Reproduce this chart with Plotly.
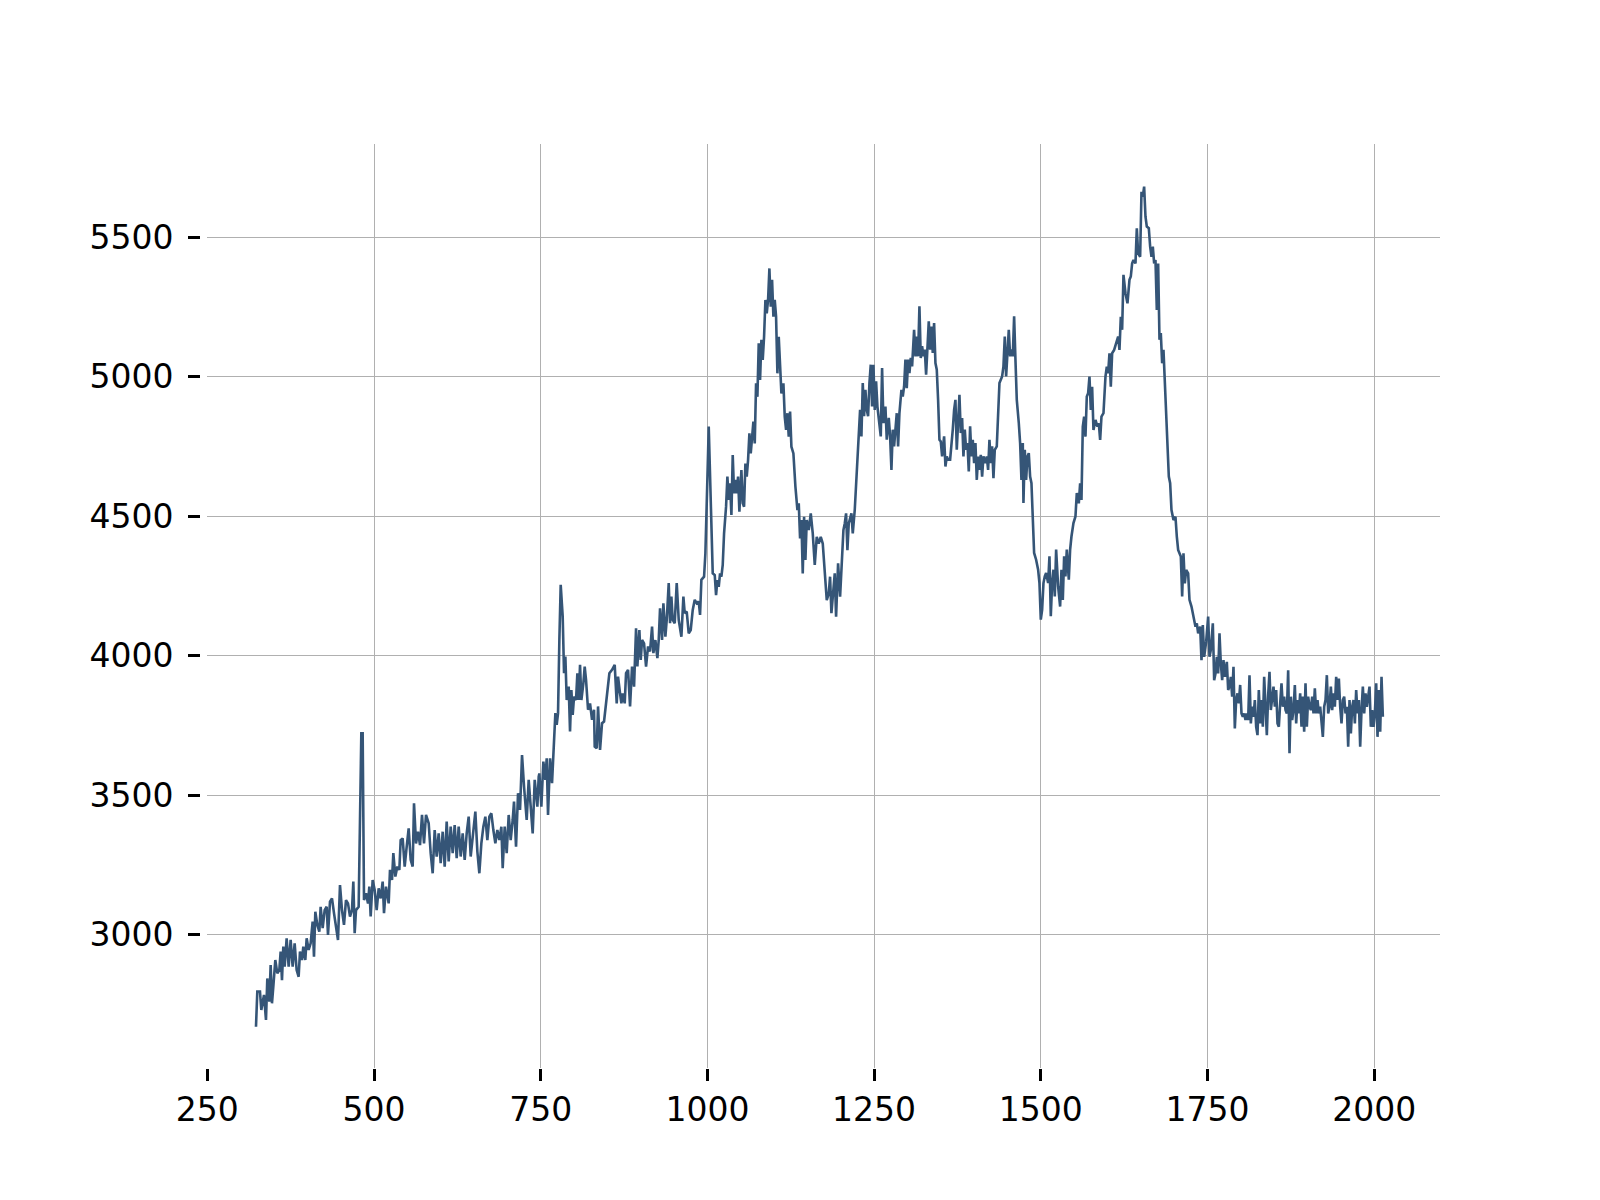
import plotly.graph_objects as go

# ---- data ----
x_a = [323,325,329,331,335,338,340,343,345,347,349,352,355,358,360,362,364,366,369,372,375,378,381,384,387,389,392,394,397,399,
       402,405,408,410,412,415,418,420,423,426,429,431,434,437,440,443,446,449,452,455,458,461,464,467,469,471,473,477,479,481,
       483,485,488,491,493,495,498,501,504,507,510,513,515,518,522,524,527,529,532,535,538,540,543,546,549,552,555,558,560,563,
       566,569,572,575,578,582,585,588,591,594,597,600,603,606,609,612,615,618,621,624,627,630,633,636,639,642,645,648,652,655,
       658,661,664,667,670,673,676,679,682,685,688,691,693,696,699,702,705,708,710,713,716,719,722,725,729,732,735,738,741,745,747]
y_a = [2670,2796,2796,2730,2784,2694,2843,2760,2891,2754,2814,2909,2861,2873,2939,2837,2957,2885,2987,2885,2981,2885,2969,2873,2849,2939,2909,2957,2909,2987,
       2945,2969,3047,2921,3082,3035,3011,3100,3023,3088,3100,2999,3118,3130,3077,3029,2981,3178,3088,3035,3124,3112,3065,3088,3190,3005,3088,3100,3435,3722,
       3722,3124,3148,3112,3172,3065,3196,3160,3088,3166,3130,3190,3077,3172,3112,3232,3196,3292,3208,3244,3232,3339,3345,3244,3315,3381,3268,3244,3471,3327,
       3369,3321,3429,3327,3429,3399,3292,3220,3375,3280,3363,3256,3369,3244,3405,3262,3387,3292,3393,3274,3387,3280,3363,3268,3363,3423,3280,3351,3441,3298,
       3220,3327,3387,3423,3339,3423,3435,3375,3327,3375,3339,3387,3238,3387,3292,3429,3339,3411,3477,3315,3507,3447,3644,3531,3411,3555,3447,3363,3555,3459,3566]

x_b = [748,751,754,757,759,761,764,767,769,772,774,776,778,780,783,785,787,789,792,794,796,798,800,803,805,807,809,811,814,816,
       818,821,824,827,830,831,834,836,839,842,845,849,853,857,861,864,866,869,871,873,876,878,881,884,887,890,891,893,895,898,
       900,902,905,908,911,914,917,919,922,925,927,929,932,934,937,939,942,944,946,948,951,954,957,961,964,966,969,972,975,978,
       981,984,987,989,991]
y_b = [3578,3459,3620,3555,3632,3429,3632,3543,3626,3794,3752,3794,4057,4254,4140,3937,3997,3841,3889,3728,3877,3788,3853,3841,3937,3841,3967,3841,3901,3961,
       3913,3806,3829,3770,3806,3674,3668,3818,3662,3758,3764,3841,3937,3949,3967,3829,3925,3865,3829,3865,3829,3937,3949,3818,3961,3889,3985,4098,3961,4092,
       3985,4056,4044,3961,4033,4015,4104,4009,4056,3991,4056,4170,4056,4188,4068,4128,4260,4116,4212,4128,4116,4260,4128,4068,4212,4152,4158,4080,4092,4164,
       4200,4188,4194,4146,4272]

x_c = [995,997,999,1001,1002,1004,1006,1008,1011,1013,1015,1017,1019,1021,1023,1025,1028,1030,1032,1034,1036,1038,1040,1042,1044,1046,1048,1051,1053,1055,
       1057,1059,1061,1063,1065,1067,1069,1071,1073,1075,1077,1079,1081,1083,1085,1087,1089,1091,1093,1095,1097,1099,1101,1103,1105,1107,1109,1111,1114,1116,
       1118,1120,1122,1124,1126,1129,1132,1135,1137,1139,1141,1143,1145,1147,1149,1152,1155,1158,1161,1164,1167,1170,1173,1176,1179,1182,1184,1186,1188,1191,
       1193,1196,1199,1202,1204,1206,1208,1210,1212,1216,1218]
y_c = [4283,4367,4510,4725,4821,4654,4486,4295,4289,4217,4271,4247,4295,4283,4325,4438,4534,4642,4558,4618,4504,4719,4582,4630,4582,4642,4516,4665,4546,4534,
       4689,4642,4701,4797,4725,4773,4839,4761,4976,4928,5120,4988,5132,5060,5143,5275,5227,5275,5388,5251,5347,5215,5275,5215,5012,5143,5012,4940,4976,4857,
       4809,4869,4785,4875,4749,4725,4606,4522,4546,4420,4486,4295,4498,4343,4486,4450,4510,4438,4325,4426,4402,4426,4402,4295,4199,4223,4283,4152,4223,4295,
       4140,4331,4211,4331,4450,4474,4510,4378,4474,4510,4438]

x_d = [1221,1224,1227,1229,1231,1233,1235,1237,1239,1241,1243,1245,1247,1249,1251,1253,1255,1258,1260,1262,1264,1267,1269,1272,1274,1276,1278,1280,1282,1284,
       1286,1288,1291,1293,1295,1297,1299,1301,1303,1305,1307,1310,1312,1314,1316,1318,1320,1322,1324,1326,1328,1330,1332,1334,1336,1338,1340,1342,1344,1346,
       1348,1350,1352,1355,1357,1359,1361,1364,1366,1368,1370,1372,1374,1376,1378,1380,1382,1384,1386,1388,1390,1392,1394,1396,1398,1400,1402,1404,1406,1408,
       1410,1412,1414,1417,1419,1421,1423,1425,1427,1429,1431,1434,1436,1438,1440,1442,1444,1446,1448,1450,1452,1454,1456,1458,1460,1462,1464,1467,1469,1471,
       1473,1474,1476,1478,1480,1482,1484,1486,1488,1490,1493,1496,1498,1500,1502,1504,1506,1508,1511,1513,1515,1517,1519,1521,1523,1526,1529,1531,1533,1535,
       1537,1539,1542,1544,1546,1549,1552,1554]
y_d = [4523,4642,4762,4881,4786,4977,4858,4953,4881,4858,4977,5043,4893,5043,4881,4983,4893,4810,4786,5031,4834,4893,4774,4852,4786,4666,4810,4750,4810,4869,
       4750,4869,4953,4929,4965,5061,4959,5061,5013,5067,5037,5168,5073,5144,5073,5252,5067,5109,5073,5097,5007,5097,5198,5097,5180,5085,5192,5049,5025,4917,
       4774,4768,4714,4786,4678,4714,4702,4702,4750,4810,4881,4917,4738,4822,4935,4798,4852,4714,4810,4738,4762,4660,4822,4714,4774,4690,4762,4630,4714,4666,
       4720,4642,4714,4690,4714,4666,4774,4690,4750,4636,4738,4750,4893,4977,4989,5001,5037,5144,5001,5109,5168,5073,5097,5073,5216,5061,4917,4834,4762,4630,
       4762,4547,4738,4630,4714,4726,4642,4618,4499,4368,4344,4308,4260,4129,4164,4260,4284,4296,4260,4356,4141,4260,4308,4212,4380,4248,4176,4308,4200,4356,
       4284,4380,4272,4380,4427,4475,4499,4583]

x_e = [1557,1559,1561,1563,1565,1567,1569,1571,1573,1575,1577,1579,1582,1585,1587,1589,1591,1594,1597,1599,1601,1603,1605,1607,1610,1613,1616,1618,1620,1622,
       1624,1627,1630,1633,1635,1637,1639,1642,1644,1646,1649,1651,1653,1655,1657,1659,1662,1664,1666,1668,1670,1672,1674,1676,1678,1680,1682,1684,1686,1688,
       1690,1692,1694,1696,1699,1702,1704,1706,1708,1710,1712,1714,1716,1718,1721,1723,1726,1729,1732,1734,1736]
y_e = [4546,4618,4558,4821,4857,4785,4929,4941,5000,4881,4964,4809,4845,4821,4833,4773,4857,4869,5000,5036,5012,5084,4964,5084,5096,5120,5144,5096,5215,5168,
       5365,5299,5263,5347,5359,5406,5418,5406,5532,5442,5430,5663,5645,5681,5574,5538,5532,5466,5430,5466,5406,5418,5239,5406,5132,5156,5048,5096,4988,4845,
       4773,4642,4618,4522,4486,4498,4427,4379,4367,4355,4212,4367,4259,4307,4295,4200,4176,4140,4104,4116,4080]

x_f = [1739,1741,1743,1745,1748,1751,1753,1755,1758,1760,1762,1764,1766,1768,1770,1772,1774,1776,1779,1781,1783,1785,1787,1789,1791,1793,1795,1797,1799,1801,
       1803,1805,1807,1809,1811,1813,1815,1817,1819,1821,1823,1825,1827,1829,1831,1833,1835,1837,1839,1841,1843,1845,1847,1849,1851,1853,1855,1857,1859,1861,
       1863,1865,1867,1869,1871,1873,1875,1877,1879,1881,1883,1885,1887,1889,1891,1893,1895,1897,1899,1901,1903,1905,1907,1909,1911,1913,1915,1917,1919,1921,
       1923,1925,1927,1929,1931,1933,1935,1937,1939,1941,1943,1945,1947,1949,1951,1953,1955,1957,1959,1961,1963,1965,1967,1969,1971,1973,1975,1977,1979,1981,
       1983,1985,1987,1989,1991,1993,1995,1997,1999,2001,2003,2005,2007,2009,2011,2013]
y_f = [4104,3984,4110,3996,4050,4140,3996,4020,4116,3912,3936,3996,3936,4080,3972,3912,3984,3924,3978,3877,3889,3924,3853,3960,3739,3841,3865,3829,3895,3793,
       3781,3793,3769,3793,3769,3930,3757,3817,3781,3841,3745,3715,3877,3757,3841,3745,3924,3793,3715,3859,3942,3805,3841,3889,3817,3877,3757,3745,3829,3901,
       3817,3853,3805,3793,3948,3650,3853,3769,3805,3895,3757,3841,3793,3865,3745,3853,3727,3901,3745,3853,3817,3805,3853,3793,3883,3793,3841,3793,3817,3745,
       3709,3817,3841,3930,3793,3817,3889,3805,3865,3817,3924,3841,3918,3817,3757,3841,3853,3793,3817,3674,3841,3721,3817,3841,3757,3877,3793,3841,3674,3805,
       3889,3793,3865,3817,3865,3889,3745,3805,3745,3793,3901,3709,3877,3727,3924,3781]

x_ticks = [250, 500, 750, 1000, 1250, 1500, 1750, 2000]
y_ticks = [3000, 3500, 4000, 4500, 5000, 5500]

x_vals = x_a + x_b + x_c + x_d + x_e + x_f
y_vals = y_a + y_b + y_c + y_d + y_e + y_f

LINE_COLOR = "#355577"
GRID_COLOR = "#b0b0b0"
FONT = "DejaVu Sans"

fig = go.Figure()
fig.add_trace(go.Scatter(x=x_vals, y=y_vals, mode="lines",
                         line=dict(color=LINE_COLOR, width=2.6),
                         showlegend=False, hoverinfo="skip"))

PLOT_W = 1240.0
fig.update_layout(
    width=1600, height=1200,
    # the page body adds an 8px offset, compensated here
    margin=dict(l=192, r=168, t=136, b=140, pad=0),
    paper_bgcolor="white", plot_bgcolor="white",
    font=dict(family=FONT, size=33, color="black"),
    xaxis=dict(
        domain=[7.3 / PLOT_W, 1.0],
        range=[250, 2098.7],
        tickmode="array", tickvals=x_ticks, ticktext=[str(v) for v in x_ticks],
        showgrid=True, gridcolor=GRID_COLOR, gridwidth=1.3,
        zeroline=False, showline=False,
        ticks="outside", ticklen=12, tickwidth=2.5, tickcolor="black",
        tickfont=dict(family=FONT, size=33, color="black"),
    ),
    yaxis=dict(
        anchor="free", position=0.0,
        range=[2522, 5834],
        tickmode="array", tickvals=y_ticks, ticktext=[str(v) for v in y_ticks],
        showgrid=True, gridcolor=GRID_COLOR, gridwidth=1.3,
        zeroline=False, showline=False,
        ticks="outside", ticklen=12, tickwidth=2.5, tickcolor="black",
        ticklabelstandoff=8,
        tickfont=dict(family=FONT, size=33, color="black"),
    ),
)

fig.write_html("out.html")
